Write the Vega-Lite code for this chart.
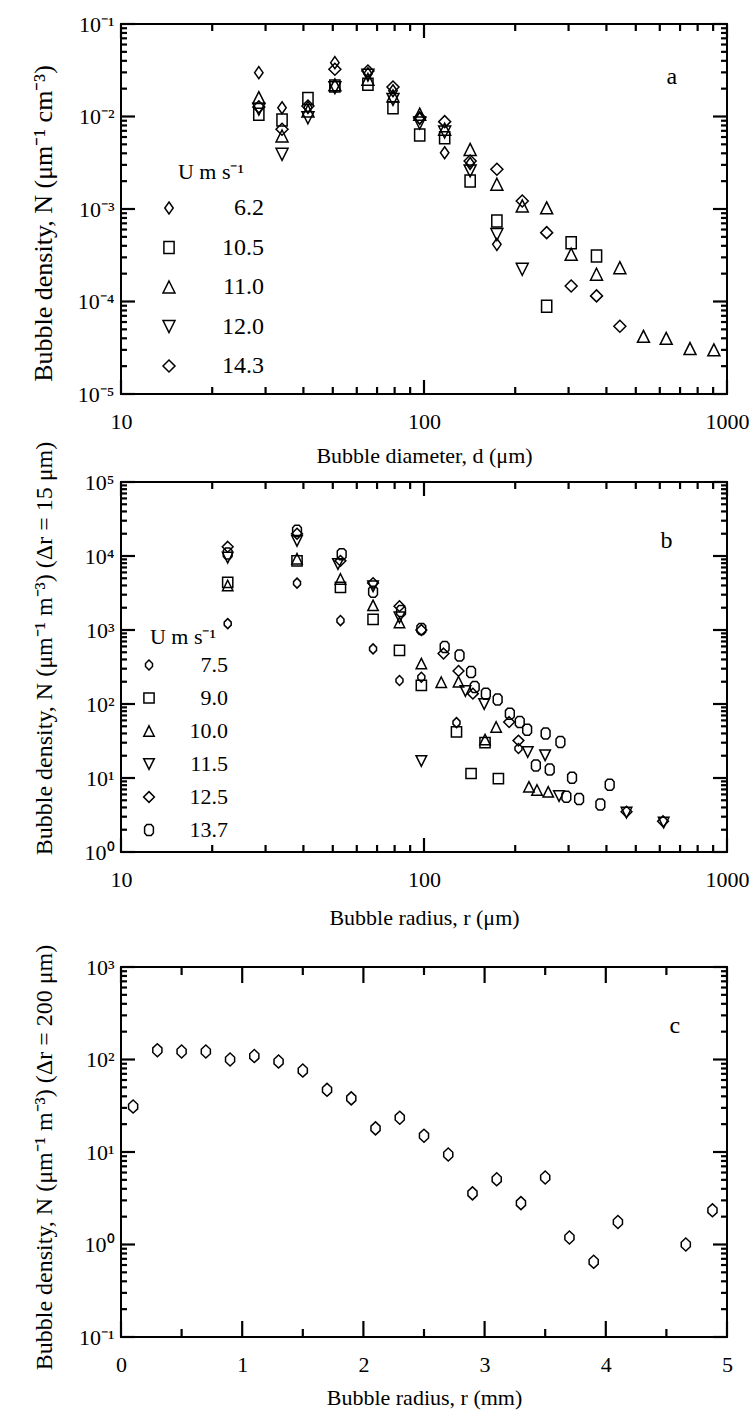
{
  "$schema": "https://vega.github.io/schema/vega-lite/v6.json",
  "padding": {"left": 29, "top": 12, "right": 10, "bottom": 2},
  "bounds": "flush",
  "spacing": 40,
  "resolve": {"scale": {"shape": "independent", "size": "independent"}, "legend": {"shape": "independent", "size": "independent"}},
  "config": {
    "view": {"stroke": "black", "strokeWidth": 2},
    "font": "Liberation Serif",
    "axis": {
      "labelFont": "Liberation Serif", "titleFont": "Liberation Serif",
      "labelColor": "black", "titleColor": "black", "domain": false, "ticks": false, "grid": false,
      "labelFontSize": 22, "titleFontSize": 22, "titleFontWeight": "normal",
      "labelFlush": false, "labelOverlap": false
    },
    "rule": {"color": "black", "strokeWidth": 2.2},
    "legend": {
      "labelFont": "Liberation Serif", "titleFont": "Liberation Serif",
      "labelColor": "black", "titleColor": "black", "titleFontWeight": "normal",
      "symbolStrokeColor": "black", "symbolStrokeWidth": 1.5, "symbolFillColor": "transparent", "padding": 0
    }
  },
  "datasets": {
    "a": [
      {"d": 28.5, "N": 0.0298, "U": "6.2"}, {"d": 34.0, "N": 0.01245, "U": "6.2"}, {"d": 41.4, "N": 0.0125, "U": "6.2"}, {"d": 50.8, "N": 0.0382, "U": "6.2"}, {"d": 65.3, "N": 0.029, "U": "6.2"}, {"d": 79, "N": 0.019, "U": "6.2"}, {"d": 96.8, "N": 0.0095, "U": "6.2"}, {"d": 117, "N": 0.00406, "U": "6.2"}, {"d": 142, "N": 0.0031, "U": "6.2"}, {"d": 174, "N": 0.000415, "U": "6.2"},
      {"d": 28.5, "N": 0.0106, "U": "10.5"}, {"d": 34.0, "N": 0.00917, "U": "10.5"}, {"d": 41.4, "N": 0.0157, "U": "10.5"}, {"d": 50.8, "N": 0.0214, "U": "10.5"}, {"d": 65.3, "N": 0.0223, "U": "10.5"}, {"d": 79, "N": 0.0124, "U": "10.5"}, {"d": 96.8, "N": 0.0063, "U": "10.5"}, {"d": 117, "N": 0.0059, "U": "10.5"}, {"d": 142, "N": 0.00201, "U": "10.5"}, {"d": 174, "N": 0.00074, "U": "10.5"}, {"d": 254, "N": 0.000089, "U": "10.5"}, {"d": 306, "N": 0.000432, "U": "10.5"}, {"d": 371, "N": 0.00031, "U": "10.5"},
      {"d": 28.5, "N": 0.016, "U": "11.0"}, {"d": 34.0, "N": 0.00615, "U": "11.0"}, {"d": 41.4, "N": 0.0115, "U": "11.0"}, {"d": 50.8, "N": 0.022, "U": "11.0"}, {"d": 65.3, "N": 0.0252, "U": "11.0"}, {"d": 79, "N": 0.0167, "U": "11.0"}, {"d": 96.8, "N": 0.0106, "U": "11.0"}, {"d": 117, "N": 0.0073, "U": "11.0"}, {"d": 142, "N": 0.00441, "U": "11.0"}, {"d": 174, "N": 0.00185, "U": "11.0"}, {"d": 211, "N": 0.00108, "U": "11.0"}, {"d": 254, "N": 0.00103, "U": "11.0"}, {"d": 306, "N": 0.000324, "U": "11.0"}, {"d": 371, "N": 0.000197, "U": "11.0"}, {"d": 443, "N": 0.000232, "U": "11.0"}, {"d": 530, "N": 0.000042, "U": "11.0"}, {"d": 630, "N": 0.00004, "U": "11.0"}, {"d": 755, "N": 0.000031, "U": "11.0"}, {"d": 905, "N": 0.00003, "U": "11.0"},
      {"d": 28.5, "N": 0.012, "U": "12.0"}, {"d": 34.0, "N": 0.0039, "U": "12.0"}, {"d": 41.4, "N": 0.0097, "U": "12.0"}, {"d": 50.8, "N": 0.0205, "U": "12.0"}, {"d": 65.3, "N": 0.028, "U": "12.0"}, {"d": 79, "N": 0.0153, "U": "12.0"}, {"d": 96.8, "N": 0.0085, "U": "12.0"}, {"d": 117, "N": 0.0068, "U": "12.0"}, {"d": 142, "N": 0.00258, "U": "12.0"}, {"d": 174, "N": 0.00053, "U": "12.0"}, {"d": 211, "N": 0.000223, "U": "12.0"},
      {"d": 28.5, "N": 0.0127, "U": "14.3"}, {"d": 34.0, "N": 0.00727, "U": "14.3"}, {"d": 41.4, "N": 0.013, "U": "14.3"}, {"d": 50.8, "N": 0.0324, "U": "14.3"}, {"d": 65.3, "N": 0.031, "U": "14.3"}, {"d": 79, "N": 0.0208, "U": "14.3"}, {"d": 96.8, "N": 0.0097, "U": "14.3"}, {"d": 117, "N": 0.0088, "U": "14.3"}, {"d": 142, "N": 0.0033, "U": "14.3"}, {"d": 174, "N": 0.00269, "U": "14.3"}, {"d": 211, "N": 0.00122, "U": "14.3"}, {"d": 254, "N": 0.000555, "U": "14.3"}, {"d": 306, "N": 0.000147, "U": "14.3"}, {"d": 371, "N": 0.000115, "U": "14.3"}, {"d": 443, "N": 0.000054, "U": "14.3"}
    ],
    "alab": [{"d": 658, "N": 0.0267, "t": "a"}],
    "b": [
      {"r": 22.5, "N": 1220, "U": "7.5"}, {"r": 38.1, "N": 4300, "U": "7.5"}, {"r": 53, "N": 1340, "U": "7.5"}, {"r": 67.9, "N": 556, "U": "7.5"}, {"r": 83, "N": 208, "U": "7.5"}, {"r": 98, "N": 230, "U": "7.5"}, {"r": 128, "N": 56, "U": "7.5"}, {"r": 205, "N": 25, "U": "7.5"},
      {"r": 22.5, "N": 4400, "U": "9.0"}, {"r": 38.1, "N": 8600, "U": "9.0"}, {"r": 53, "N": 3770, "U": "9.0"}, {"r": 67.9, "N": 1390, "U": "9.0"}, {"r": 83, "N": 530, "U": "9.0"}, {"r": 98, "N": 178, "U": "9.0"}, {"r": 128, "N": 42, "U": "9.0"}, {"r": 143, "N": 11.5, "U": "9.0"}, {"r": 159, "N": 30, "U": "9.0"}, {"r": 176, "N": 9.8, "U": "9.0"},
      {"r": 22.5, "N": 4000, "U": "10.0"}, {"r": 38.1, "N": 9200, "U": "10.0"}, {"r": 53, "N": 4900, "U": "10.0"}, {"r": 67.9, "N": 2150, "U": "10.0"}, {"r": 83, "N": 1260, "U": "10.0"}, {"r": 98, "N": 352, "U": "10.0"}, {"r": 114, "N": 197, "U": "10.0"}, {"r": 130, "N": 200, "U": "10.0"}, {"r": 159, "N": 33, "U": "10.0"}, {"r": 173, "N": 49, "U": "10.0"}, {"r": 222, "N": 7.6, "U": "10.0"}, {"r": 236, "N": 6.9, "U": "10.0"}, {"r": 257, "N": 6.5, "U": "10.0"},
      {"r": 22.5, "N": 9500, "U": "11.5"}, {"r": 38.1, "N": 16000, "U": "11.5"}, {"r": 52, "N": 7800, "U": "11.5"}, {"r": 67.9, "N": 3900, "U": "11.5"}, {"r": 83, "N": 1480, "U": "11.5"}, {"r": 98, "N": 17, "U": "11.5"}, {"r": 137, "N": 150, "U": "11.5"}, {"r": 158, "N": 100, "U": "11.5"}, {"r": 220, "N": 22.5, "U": "11.5"}, {"r": 251, "N": 20.3, "U": "11.5"}, {"r": 279, "N": 5.7, "U": "11.5"}, {"r": 466, "N": 3.4, "U": "11.5"}, {"r": 618, "N": 2.5, "U": "11.5"},
      {"r": 22.5, "N": 13300, "U": "12.5"}, {"r": 38.1, "N": 20000, "U": "12.5"}, {"r": 53, "N": 8600, "U": "12.5"}, {"r": 67.9, "N": 4300, "U": "12.5"}, {"r": 83, "N": 2100, "U": "12.5"}, {"r": 98, "N": 1000, "U": "12.5"}, {"r": 116, "N": 480, "U": "12.5"}, {"r": 130, "N": 280, "U": "12.5"}, {"r": 145, "N": 138, "U": "12.5"}, {"r": 191, "N": 57, "U": "12.5"}, {"r": 205, "N": 32, "U": "12.5"}, {"r": 466, "N": 3.5, "U": "12.5"}, {"r": 615, "N": 2.6, "U": "12.5"},
      {"r": 22.5, "N": 10800, "U": "13.7"}, {"r": 38.1, "N": 21900, "U": "13.7"}, {"r": 53.5, "N": 10600, "U": "13.7"}, {"r": 67.9, "N": 3300, "U": "13.7"}, {"r": 84, "N": 1800, "U": "13.7"}, {"r": 98, "N": 1035, "U": "13.7"}, {"r": 117, "N": 590, "U": "13.7"}, {"r": 131, "N": 452, "U": "13.7"}, {"r": 143, "N": 270, "U": "13.7"}, {"r": 147, "N": 170, "U": "13.7"}, {"r": 160, "N": 138, "U": "13.7"}, {"r": 175, "N": 115, "U": "13.7"}, {"r": 192, "N": 74, "U": "13.7"}, {"r": 207, "N": 57, "U": "13.7"}, {"r": 219, "N": 45, "U": "13.7"}, {"r": 252, "N": 40, "U": "13.7"}, {"r": 282, "N": 30.6, "U": "13.7"}, {"r": 234, "N": 14.8, "U": "13.7"}, {"r": 260, "N": 13, "U": "13.7"}, {"r": 308, "N": 10.1, "U": "13.7"}, {"r": 410, "N": 8.1, "U": "13.7"}, {"r": 295, "N": 5.6, "U": "13.7"}, {"r": 325, "N": 5.2, "U": "13.7"}, {"r": 382, "N": 4.4, "U": "13.7"}
    ],
    "blab": [{"r": 632, "N": 16000, "t": "b"}],
    "c": [
      {"r": 0.1, "N": 31}, {"r": 0.3, "N": 126}, {"r": 0.5, "N": 122}, {"r": 0.7, "N": 122}, {"r": 0.9, "N": 100}, {"r": 1.1, "N": 109}, {"r": 1.3, "N": 95}, {"r": 1.5, "N": 76}, {"r": 1.7, "N": 47}, {"r": 1.9, "N": 38}, {"r": 2.1, "N": 18}, {"r": 2.3, "N": 23.5}, {"r": 2.5, "N": 15}, {"r": 2.7, "N": 9.4}, {"r": 2.9, "N": 3.57}, {"r": 3.1, "N": 5.07}, {"r": 3.3, "N": 2.8}, {"r": 3.5, "N": 5.3}, {"r": 3.7, "N": 1.19}, {"r": 3.9, "N": 0.65}, {"r": 4.1, "N": 1.75}, {"r": 4.66, "N": 1.0}, {"r": 4.88, "N": 2.34}
    ],
    "clab": [{"r": 4.57, "N": 230, "t": "c"}],
    "xl1": [{"v": 10}, {"v": 100}, {"v": 1000}],
    "xl2": [{"v": 20}, {"v": 30}, {"v": 40}, {"v": 50}, {"v": 60}, {"v": 70}, {"v": 80}, {"v": 90}, {"v": 200}, {"v": 300}, {"v": 400}, {"v": 500}, {"v": 600}, {"v": 700}, {"v": 800}, {"v": 900}],
    "ya1": [{"v": 1e-5}, {"v": 1e-4}, {"v": 0.001}, {"v": 0.01}, {"v": 0.1}],
    "ya2": [{"v": 2e-5}, {"v": 3e-5}, {"v": 4e-5}, {"v": 5e-5}, {"v": 6e-5}, {"v": 7e-5}, {"v": 8e-5}, {"v": 9e-5}, {"v": 2e-4}, {"v": 3e-4}, {"v": 4e-4}, {"v": 5e-4}, {"v": 6e-4}, {"v": 7e-4}, {"v": 8e-4}, {"v": 9e-4}, {"v": 0.002}, {"v": 0.003}, {"v": 0.004}, {"v": 0.005}, {"v": 0.006}, {"v": 0.007}, {"v": 0.008}, {"v": 0.009}, {"v": 0.02}, {"v": 0.03}, {"v": 0.04}, {"v": 0.05}, {"v": 0.06}, {"v": 0.07}, {"v": 0.08}, {"v": 0.09}],
    "yb1": [{"v": 1}, {"v": 10}, {"v": 100}, {"v": 1000}, {"v": 10000}, {"v": 100000}],
    "yb2": [{"v": 2}, {"v": 3}, {"v": 4}, {"v": 5}, {"v": 6}, {"v": 7}, {"v": 8}, {"v": 9}, {"v": 20}, {"v": 30}, {"v": 40}, {"v": 50}, {"v": 60}, {"v": 70}, {"v": 80}, {"v": 90}, {"v": 200}, {"v": 300}, {"v": 400}, {"v": 500}, {"v": 600}, {"v": 700}, {"v": 800}, {"v": 900}, {"v": 2000}, {"v": 3000}, {"v": 4000}, {"v": 5000}, {"v": 6000}, {"v": 7000}, {"v": 8000}, {"v": 9000}, {"v": 20000}, {"v": 30000}, {"v": 40000}, {"v": 50000}, {"v": 60000}, {"v": 70000}, {"v": 80000}, {"v": 90000}],
    "xc1": [{"v": 0}, {"v": 1}, {"v": 2}, {"v": 3}, {"v": 4}, {"v": 5}],
    "xc2": [{"v": 0.5}, {"v": 1.5}, {"v": 2.5}, {"v": 3.5}, {"v": 4.5}],
    "yc1": [{"v": 0.1}, {"v": 1}, {"v": 10}, {"v": 100}, {"v": 1000}],
    "yc2": [{"v": 0.2}, {"v": 0.3}, {"v": 0.4}, {"v": 0.5}, {"v": 0.6}, {"v": 0.7}, {"v": 0.8}, {"v": 0.9}, {"v": 2}, {"v": 3}, {"v": 4}, {"v": 5}, {"v": 6}, {"v": 7}, {"v": 8}, {"v": 9}, {"v": 20}, {"v": 30}, {"v": 40}, {"v": 50}, {"v": 60}, {"v": 70}, {"v": 80}, {"v": 90}, {"v": 200}, {"v": 300}, {"v": 400}, {"v": 500}, {"v": 600}, {"v": 700}, {"v": 800}, {"v": 900}],
    "empty": []
  },
  "vconcat": [
    {
      "width": 606, "height": 370,
      "layer": [
        {
          "data": {"name": "a"},
          "mark": {"type": "point", "filled": false, "strokeWidth": 1.5, "opacity": 1, "color": "black"},
          "encoding": {
            "x": {"field": "d", "type": "quantitative", "scale": {"type": "log", "domain": [10, 1000], "nice": false},
              "axis": {"orient": "bottom", "title": "Bubble diameter, d (μm)", "titleBaseline": "alphabetic", "titleY": 68,
                "values": [10, 100, 1000], "labelExpr": "format(datum.value, 'd')", "tickSize": 0, "labelPadding": 17}},
            "y": {"field": "N", "type": "quantitative", "scale": {"type": "log", "domain": [0.00001, 0.1], "nice": false},
              "axis": {"orient": "left", "title": "Bubble density, N (μm⁻¹ cm⁻³)", "titleFontSize": 26, "titleBaseline": "alphabetic", "titleX": -70, "titleY": 199,
                "values": [1e-5, 1e-4, 0.001, 0.01, 0.1],
                "labelExpr": "'10' + ['⁻⁵','⁻⁴','⁻³','⁻²','⁻¹','⁰','¹','²','³','⁴','⁵'][round(log(datum.value)/LN10) + 5]",
                "tickSize": 0, "labelPadding": 7}},
            "shape": {"field": "U", "type": "ordinal",
              "scale": {"domain": ["6.2", "10.5", "11.0", "12.0", "14.3"],
                "range": ["M0,-1L0.7,0L0,1L-0.7,0Z", "M-0.85,-1L0.85,-1L0.85,1L-0.85,1Z", "M0,-1L1,1L-1,1Z", "M0,1L1,-1L-1,-1Z", "M0,-1L1,0L0,1L-1,0Z"]},
              "legend": {"orient": "none", "legendX": 36, "legendY": 138, "title": "U m s⁻¹", "titleFontSize": 22, "titleAnchor": "middle", "titlePadding": 12, "labelFontSize": 24, "labelAlign": "right", "labelOffset": 83, "rowPadding": 15.5}},
            "size": {"field": "U", "type": "ordinal",
              "scale": {"domain": ["6.2", "10.5", "11.0", "12.0", "14.3"], "range": [144, 144, 110, 110, 225]},
              "legend": {"orient": "none", "legendX": 36, "legendY": 138, "title": "U m s⁻¹", "titleFontSize": 22, "titleAnchor": "middle", "titlePadding": 12, "labelFontSize": 24, "labelAlign": "right", "labelOffset": 83, "rowPadding": 15.5}}
          }
        },
        {"data": {"name": "alab"}, "mark": {"type": "text", "font": "Liberation Serif", "fontSize": 24, "color": "black"},
          "encoding": {"x": {"field": "d", "type": "quantitative", "axis": null}, "y": {"field": "N", "type": "quantitative", "axis": null}, "text": {"field": "t"}}},
        {"data": {"name": "xl1"}, "mark": {"type": "rule", "y2Offset": -14}, "encoding": {"x": {"field": "v", "type": "quantitative", "axis": null}, "y": {"datum": 0.00001, "type": "quantitative", "axis": null}, "y2": {"datum": 0.00001}}},
        {"data": {"name": "xl2"}, "mark": {"type": "rule", "y2Offset": -7}, "encoding": {"x": {"field": "v", "type": "quantitative", "axis": null}, "y": {"datum": 0.00001, "type": "quantitative", "axis": null}, "y2": {"datum": 0.00001}}},
        {"data": {"name": "xl1"}, "mark": {"type": "rule", "y2Offset": 14}, "encoding": {"x": {"field": "v", "type": "quantitative", "axis": null}, "y": {"datum": 0.1, "type": "quantitative", "axis": null}, "y2": {"datum": 0.1}}},
        {"data": {"name": "xl2"}, "mark": {"type": "rule", "y2Offset": 7}, "encoding": {"x": {"field": "v", "type": "quantitative", "axis": null}, "y": {"datum": 0.1, "type": "quantitative", "axis": null}, "y2": {"datum": 0.1}}},
        {"data": {"name": "ya1"}, "mark": {"type": "rule", "x2Offset": 14}, "encoding": {"y": {"field": "v", "type": "quantitative", "axis": null}, "x": {"datum": 10, "type": "quantitative", "axis": null}, "x2": {"datum": 10}}},
        {"data": {"name": "ya2"}, "mark": {"type": "rule", "x2Offset": 6}, "encoding": {"y": {"field": "v", "type": "quantitative", "axis": null}, "x": {"datum": 10, "type": "quantitative", "axis": null}, "x2": {"datum": 10}}},
        {"data": {"name": "ya1"}, "mark": {"type": "rule", "x2Offset": -14}, "encoding": {"y": {"field": "v", "type": "quantitative", "axis": null}, "x": {"datum": 1000, "type": "quantitative", "axis": null}, "x2": {"datum": 1000}}},
        {"data": {"name": "ya2"}, "mark": {"type": "rule", "x2Offset": -6}, "encoding": {"y": {"field": "v", "type": "quantitative", "axis": null}, "x": {"datum": 1000, "type": "quantitative", "axis": null}, "x2": {"datum": 1000}}}
      ],
      "resolve": {"axis": {"x": "independent", "y": "independent"}}
    },
    {"width": 606, "height": 8, "view": {"stroke": null}, "data": {"name": "empty"}, "mark": {"type": "point", "opacity": 0}},
    {
      "width": 606, "height": 370,
      "layer": [
        {
          "data": {"name": "b"},
          "mark": {"type": "point", "filled": false, "strokeWidth": 1.5, "opacity": 1, "color": "black"},
          "encoding": {
            "x": {"field": "r", "type": "quantitative", "scale": {"type": "log", "domain": [10, 1000], "nice": false},
              "axis": {"orient": "bottom", "title": "Bubble radius, r (μm)", "titleBaseline": "alphabetic", "titleY": 72,
                "values": [10, 100, 1000], "labelExpr": "format(datum.value, 'd')", "tickSize": 0, "labelPadding": 17}},
            "y": {"field": "N", "type": "quantitative", "scale": {"type": "log", "domain": [1, 100000], "nice": false},
              "axis": {"orient": "left", "title": "Bubble density, N (μm⁻¹ m⁻³)  (Δr = 15 μm)", "titleFontSize": 24, "titleBaseline": "alphabetic", "titleX": -70, "titleY": 166,
                "values": [1, 10, 100, 1000, 10000, 100000],
                "labelExpr": "'10' + ['⁻⁵','⁻⁴','⁻³','⁻²','⁻¹','⁰','¹','²','³','⁴','⁵'][round(log(datum.value)/LN10) + 5]",
                "tickSize": 0, "labelPadding": 7}},
            "shape": {"field": "U", "type": "ordinal",
              "scale": {"domain": ["7.5", "9.0", "10.0", "11.5", "12.5", "13.7"],
                "range": ["M0,-1L0.7,-0.3L0.7,0.3L0,1L-0.7,0.3L-0.7,-0.3Z", "M-1,-1L1,-1L1,1L-1,1Z", "M0,-1L1,1L-1,1Z", "M0,1L1,-1L-1,-1Z", "M0,-1L1,0L0,1L-1,0Z", "M-0.4,-1L0.4,-1L0.8,-0.55L0.8,0.55L0.4,1L-0.4,1L-0.8,0.55L-0.8,-0.55Z"]},
              "legend": {"orient": "none", "legendX": 17, "legendY": 145, "title": "U m s⁻¹", "titleFontSize": 22, "titleAnchor": "middle", "titlePadding": 5, "labelFontSize": 22, "labelAlign": "right", "labelOffset": 68, "rowPadding": 11}},
            "size": {"field": "U", "type": "ordinal",
              "scale": {"domain": ["7.5", "9.0", "10.0", "11.5", "12.5", "13.7"], "range": [100, 121, 121, 121, 196, 169]},
              "legend": {"orient": "none", "legendX": 17, "legendY": 145, "title": "U m s⁻¹", "titleFontSize": 22, "titleAnchor": "middle", "titlePadding": 5, "labelFontSize": 22, "labelAlign": "right", "labelOffset": 68, "rowPadding": 11}}
          }
        },
        {"data": {"name": "blab"}, "mark": {"type": "text", "font": "Liberation Serif", "fontSize": 24, "color": "black"},
          "encoding": {"x": {"field": "r", "type": "quantitative", "axis": null}, "y": {"field": "N", "type": "quantitative", "axis": null}, "text": {"field": "t"}}},
        {"data": {"name": "xl1"}, "mark": {"type": "rule", "y2Offset": -14}, "encoding": {"x": {"field": "v", "type": "quantitative", "axis": null}, "y": {"datum": 1, "type": "quantitative", "axis": null}, "y2": {"datum": 1}}},
        {"data": {"name": "xl2"}, "mark": {"type": "rule", "y2Offset": -7}, "encoding": {"x": {"field": "v", "type": "quantitative", "axis": null}, "y": {"datum": 1, "type": "quantitative", "axis": null}, "y2": {"datum": 1}}},
        {"data": {"name": "xl1"}, "mark": {"type": "rule", "y2Offset": 14}, "encoding": {"x": {"field": "v", "type": "quantitative", "axis": null}, "y": {"datum": 100000, "type": "quantitative", "axis": null}, "y2": {"datum": 100000}}},
        {"data": {"name": "xl2"}, "mark": {"type": "rule", "y2Offset": 7}, "encoding": {"x": {"field": "v", "type": "quantitative", "axis": null}, "y": {"datum": 100000, "type": "quantitative", "axis": null}, "y2": {"datum": 100000}}},
        {"data": {"name": "yb1"}, "mark": {"type": "rule", "x2Offset": 14}, "encoding": {"y": {"field": "v", "type": "quantitative", "axis": null}, "x": {"datum": 10, "type": "quantitative", "axis": null}, "x2": {"datum": 10}}},
        {"data": {"name": "yb2"}, "mark": {"type": "rule", "x2Offset": 6}, "encoding": {"y": {"field": "v", "type": "quantitative", "axis": null}, "x": {"datum": 10, "type": "quantitative", "axis": null}, "x2": {"datum": 10}}},
        {"data": {"name": "yb1"}, "mark": {"type": "rule", "x2Offset": -14}, "encoding": {"y": {"field": "v", "type": "quantitative", "axis": null}, "x": {"datum": 1000, "type": "quantitative", "axis": null}, "x2": {"datum": 1000}}},
        {"data": {"name": "yb2"}, "mark": {"type": "rule", "x2Offset": -6}, "encoding": {"y": {"field": "v", "type": "quantitative", "axis": null}, "x": {"datum": 1000, "type": "quantitative", "axis": null}, "x2": {"datum": 1000}}}
      ],
      "resolve": {"axis": {"x": "independent", "y": "independent"}}
    },
    {"width": 606, "height": 35, "view": {"stroke": null}, "data": {"name": "empty"}, "mark": {"type": "point", "opacity": 0}},
    {
      "width": 606, "height": 370,
      "layer": [
        {
          "data": {"name": "c"},
          "mark": {"type": "point", "filled": false, "strokeWidth": 1.5, "opacity": 1, "color": "black", "size": 169, "shape": "M0,-1L0.7,-0.35L0.7,0.35L0,1L-0.7,0.35L-0.7,-0.35Z"},
          "encoding": {
            "x": {"field": "r", "type": "quantitative", "scale": {"domain": [0, 5], "nice": false, "zero": false},
              "axis": {"orient": "bottom", "title": "Bubble radius, r (mm)", "titleBaseline": "alphabetic", "titleY": 67,
                "values": [0, 1, 2, 3, 4, 5], "labelExpr": "format(datum.value, 'd')", "tickSize": 0, "labelPadding": 17}},
            "y": {"field": "N", "type": "quantitative", "scale": {"type": "log", "domain": [0.1, 1000], "nice": false},
              "axis": {"orient": "left", "title": "Bubble density, N (μm⁻¹ m⁻³)  (Δr = 200 μm)", "titleFontSize": 24, "titleBaseline": "alphabetic", "titleX": -70, "titleY": 190,
                "values": [0.1, 1, 10, 100, 1000],
                "labelExpr": "'10' + ['⁻⁵','⁻⁴','⁻³','⁻²','⁻¹','⁰','¹','²','³','⁴','⁵'][round(log(datum.value)/LN10) + 5]",
                "tickSize": 0, "labelPadding": 7}}
          }
        },
        {"data": {"name": "clab"}, "mark": {"type": "text", "font": "Liberation Serif", "fontSize": 24, "color": "black"},
          "encoding": {"x": {"field": "r", "type": "quantitative", "axis": null}, "y": {"field": "N", "type": "quantitative", "axis": null}, "text": {"field": "t"}}},
        {"data": {"name": "xc1"}, "mark": {"type": "rule", "y2Offset": -16}, "encoding": {"x": {"field": "v", "type": "quantitative", "axis": null}, "y": {"datum": 0.1, "type": "quantitative", "axis": null}, "y2": {"datum": 0.1}}},
        {"data": {"name": "xc2"}, "mark": {"type": "rule", "y2Offset": -8}, "encoding": {"x": {"field": "v", "type": "quantitative", "axis": null}, "y": {"datum": 0.1, "type": "quantitative", "axis": null}, "y2": {"datum": 0.1}}},
        {"data": {"name": "xc1"}, "mark": {"type": "rule", "y2Offset": 16}, "encoding": {"x": {"field": "v", "type": "quantitative", "axis": null}, "y": {"datum": 1000, "type": "quantitative", "axis": null}, "y2": {"datum": 1000}}},
        {"data": {"name": "xc2"}, "mark": {"type": "rule", "y2Offset": 8}, "encoding": {"x": {"field": "v", "type": "quantitative", "axis": null}, "y": {"datum": 1000, "type": "quantitative", "axis": null}, "y2": {"datum": 1000}}},
        {"data": {"name": "yc1"}, "mark": {"type": "rule", "x2Offset": 14}, "encoding": {"y": {"field": "v", "type": "quantitative", "axis": null}, "x": {"datum": 0, "type": "quantitative", "axis": null}, "x2": {"datum": 0}}},
        {"data": {"name": "yc2"}, "mark": {"type": "rule", "x2Offset": 6}, "encoding": {"y": {"field": "v", "type": "quantitative", "axis": null}, "x": {"datum": 0, "type": "quantitative", "axis": null}, "x2": {"datum": 0}}},
        {"data": {"name": "yc1"}, "mark": {"type": "rule", "x2Offset": -14}, "encoding": {"y": {"field": "v", "type": "quantitative", "axis": null}, "x": {"datum": 5, "type": "quantitative", "axis": null}, "x2": {"datum": 5}}},
        {"data": {"name": "yc2"}, "mark": {"type": "rule", "x2Offset": -6}, "encoding": {"y": {"field": "v", "type": "quantitative", "axis": null}, "x": {"datum": 5, "type": "quantitative", "axis": null}, "x2": {"datum": 5}}}
      ],
      "resolve": {"axis": {"x": "independent", "y": "independent"}}
    }
  ]
}
